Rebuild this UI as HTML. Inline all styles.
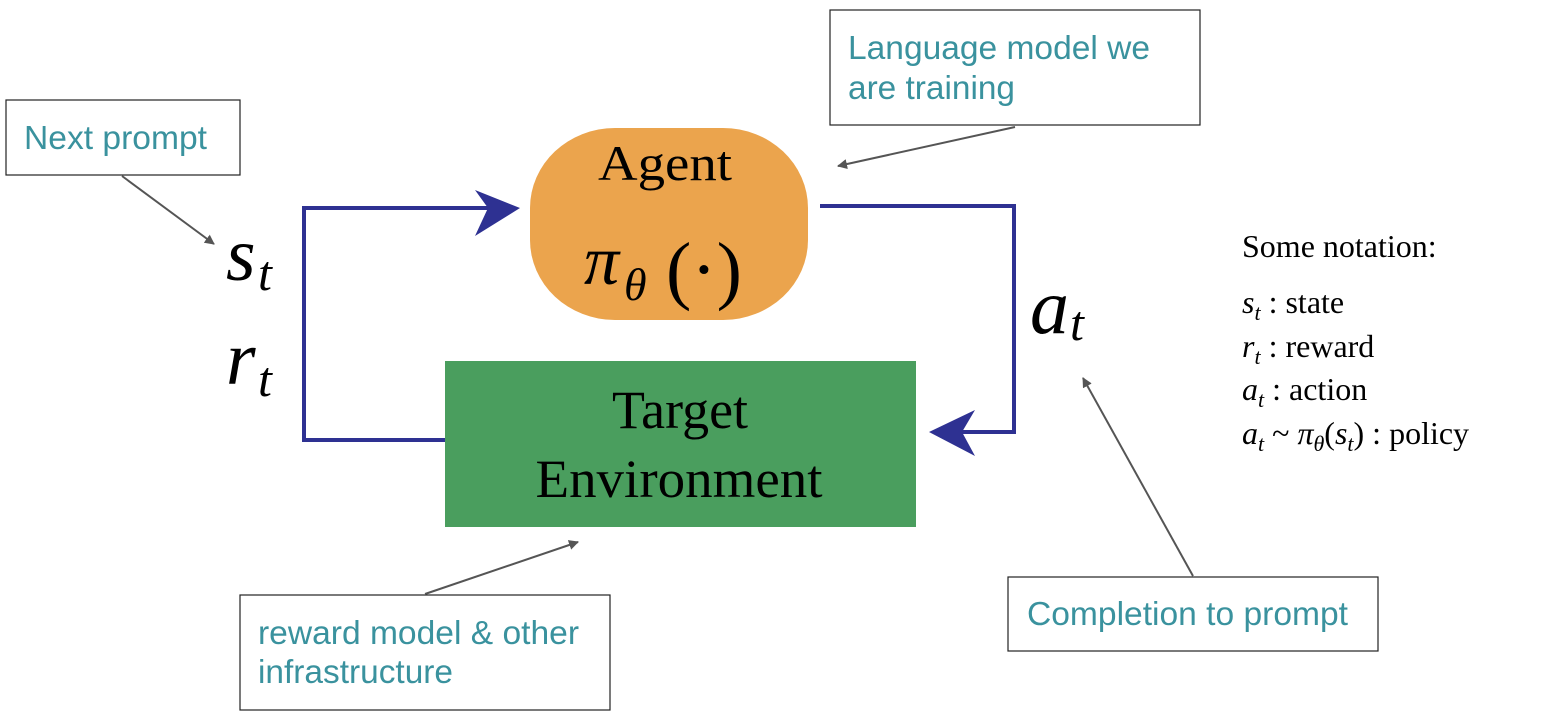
<!DOCTYPE html>
<html><head><style>body{margin:0;background:#fff}svg{display:block}</style></head>
<body>
<svg width="1558" height="716" viewBox="0 0 1558 716" xmlns="http://www.w3.org/2000/svg">
<defs>
<marker id="g" viewBox="0 0 10 10" refX="9" refY="5" markerWidth="5" markerHeight="5" orient="auto"><path d="M0,0L10,5L0,10z" fill="#555"/></marker>
</defs>
<g fill="#fff" stroke="#222" stroke-width="1.2">
<rect x="6" y="100" width="234" height="75"/>
<rect x="830" y="10" width="370" height="115"/>
<rect x="240" y="595" width="370" height="115"/>
<rect x="1008" y="577" width="370" height="74"/>
</g>
<g font-family="Liberation Sans, sans-serif" font-size="33" fill="#3a929e">
<text x="24" y="149" textLength="183" lengthAdjust="spacingAndGlyphs">Next prompt</text>
<text x="848" y="59" textLength="302" lengthAdjust="spacingAndGlyphs">Language model we</text>
<text x="848" y="99" textLength="167" lengthAdjust="spacingAndGlyphs">are training</text>
<text x="258" y="644" textLength="321" lengthAdjust="spacingAndGlyphs">reward model &amp; other</text>
<text x="258" y="683" textLength="195" lengthAdjust="spacingAndGlyphs">infrastructure</text>
<text x="1027" y="625" textLength="321" lengthAdjust="spacingAndGlyphs">Completion to prompt</text>
</g>
<rect x="530" y="128" width="278" height="192" rx="85" ry="80" fill="#eba44d"/>
<rect x="445" y="361" width="471" height="166" fill="#4a9e5e"/>
<g font-family="Liberation Serif, serif" fill="#000">
<text x="665" y="180" font-size="50" text-anchor="middle" textLength="134" lengthAdjust="spacingAndGlyphs">Agent</text>
<text x="584" y="284" font-size="70" font-style="italic">π</text>
<text x="624" y="300" font-size="46" font-style="italic">θ</text>
<text x="666" y="295" font-size="76">(·)</text>
<text x="680" y="428" font-size="54" text-anchor="middle" textLength="136" lengthAdjust="spacingAndGlyphs">Target</text>
<text x="679" y="497" font-size="54" text-anchor="middle" textLength="287" lengthAdjust="spacingAndGlyphs">Environment</text>
<text x="226" y="280" font-size="76" font-style="italic">s</text>
<text x="258" y="290" font-size="50" font-style="italic">t</text>
<text x="226" y="384" font-size="76" font-style="italic">r</text>
<text x="258" y="396" font-size="50" font-style="italic">t</text>
<text x="1030" y="333" font-size="78" font-style="italic">a</text>
<text x="1070" y="340" font-size="50" font-style="italic">t</text>
</g>
<g fill="none" stroke="#2e3192" stroke-width="4">
<polyline points="445,440 304,440 304,208 490,208"/>
<polyline points="820,206 1014,206 1014,432 955,432"/>
</g>
<path d="M520,208 L475,190 L488,208 L475,236 Z" fill="#2e3192"/>
<path d="M929,432 L975,410 L962,432 L975,456 Z" fill="#2e3192"/>
<g stroke="#555" stroke-width="2" marker-end="url(#g)">
<line x1="122" y1="176" x2="214" y2="244"/>
<line x1="1015" y1="127" x2="838" y2="166"/>
<line x1="425" y1="594" x2="578" y2="542"/>
<line x1="1193" y1="576" x2="1083" y2="378"/>
</g>
<g font-family="Liberation Serif, serif" font-size="32" fill="#000">
<text x="1242" y="257">Some notation:</text>
<text x="1242" y="313"><tspan font-style="italic">s</tspan><tspan font-size="22" dy="7" font-style="italic">t</tspan><tspan dy="-7"> : state</tspan></text>
<text x="1242" y="357"><tspan font-style="italic">r</tspan><tspan font-size="22" dy="7" font-style="italic">t</tspan><tspan dy="-7"> : reward</tspan></text>
<text x="1242" y="400"><tspan font-style="italic">a</tspan><tspan font-size="22" dy="7" font-style="italic">t</tspan><tspan dy="-7"> : action</tspan></text>
<text x="1242" y="444"><tspan font-style="italic">a</tspan><tspan font-size="22" dy="7" font-style="italic">t</tspan><tspan dy="-7"> ~ </tspan><tspan font-style="italic">π</tspan><tspan font-size="22" dy="7" font-style="italic">θ</tspan><tspan dy="-7">(</tspan><tspan font-style="italic">s</tspan><tspan font-size="22" dy="7" font-style="italic">t</tspan><tspan dy="-7">) : policy</tspan></text>
</g>
</svg>
</body></html>
